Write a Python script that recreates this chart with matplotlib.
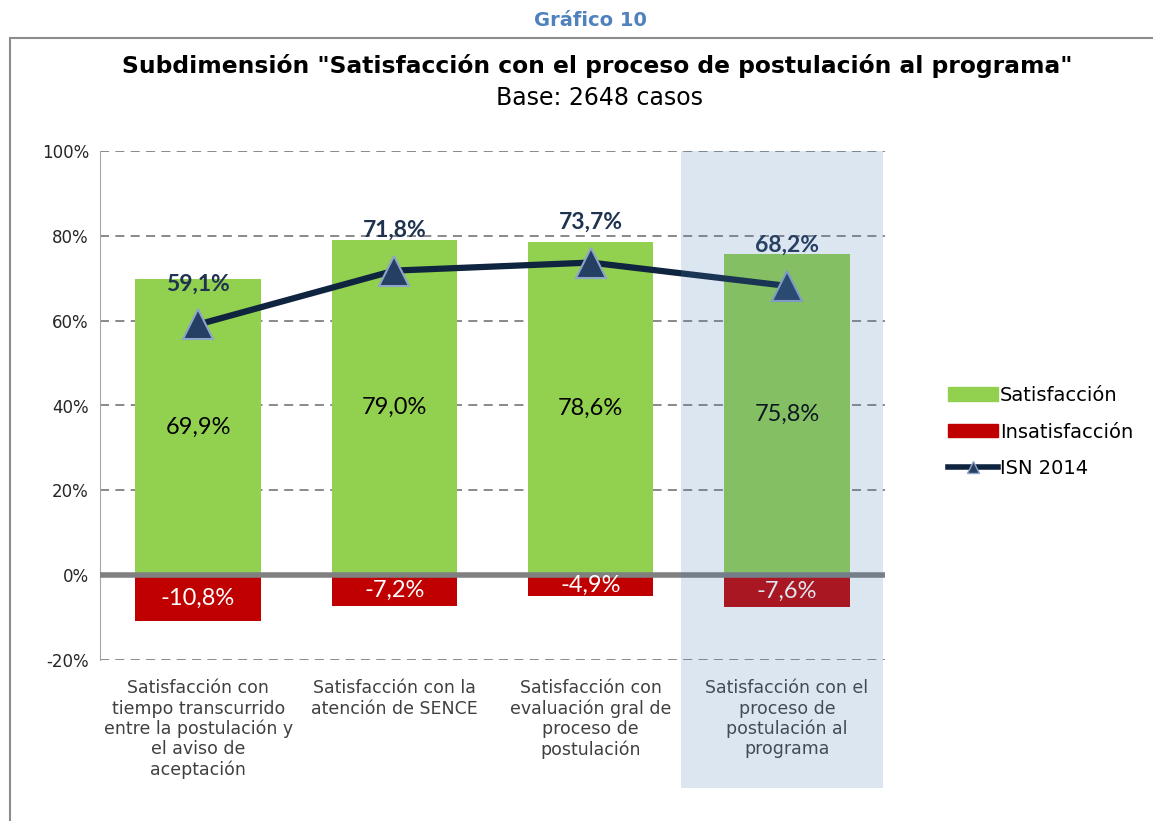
import matplotlib
matplotlib.use("Agg")
import matplotlib.pyplot as plt
from matplotlib.patches import Rectangle, Patch
from matplotlib.lines import Line2D
from matplotlib.transforms import blended_transform_factory

# datos del grafico
categorias = ["Satisfacción con\ntiempo transcurrido\nentre la postulación y\nel aviso de\naceptación",
              "Satisfacción con la\natención de SENCE",
              "Satisfacción con\nevaluación gral de\nproceso de\npostulación",
              "Satisfacción con el\nproceso de\npostulación al\nprograma"]
satisfaccion = [69.9, 79.0, 78.6, 75.8]
insatisfaccion = [-10.8, -7.2, -4.9, -7.6]
isn_2014 = [59.1, 71.8, 73.7, 68.2]
yticks = [-20, 0, 20, 40, 60, 80, 100]

verde = "#92D050"
rojo = "#C00000"
navy = "#0F243E"

def fmt(v):
    return ("%.1f%%" % v).replace(".", ",")

fig = plt.figure(figsize=(11.53, 8.21), dpi=100)
ax = fig.add_axes([100/1153, 1-660/821, 785/1153, 509/821])

x = list(range(len(categorias)))
ax.bar(x, satisfaccion, width=0.64, color=verde, zorder=2)
ax.bar(x, insatisfaccion, width=0.64, color=rojo, zorder=2)
ax.axhline(0, color="#808080", lw=4, zorder=3)
ax.plot(x, isn_2014, color=navy, lw=4.5, marker="^", markersize=21,
        markerfacecolor="#253F63", markeredgecolor="#8EA4C8", markeredgewidth=1.5, zorder=4)

for i in x:
    ax.text(i, satisfaccion[i] / 2, fmt(satisfaccion[i]), ha="center", va="center",
            fontsize=17, family="Lato", color="black", zorder=5)
    ax.text(i, insatisfaccion[i] / 2, fmt(insatisfaccion[i]), ha="center", va="center",
            fontsize=17, family="Lato", color="white", zorder=5)
    ax.annotate(fmt(isn_2014[i]), (i, isn_2014[i]), xytext=(0, 29), textcoords="offset points",
                ha="center", va="center", fontsize=16.5, family="Lato", fontweight="bold",
                color="#1F3350", zorder=5)

ax.set_xlim(-0.5, 3.5)
ax.set_ylim(-20, 100)
ax.set_yticks(yticks)
ax.set_yticklabels(["%d%%" % v for v in yticks], fontsize=12, color="#262626")
ax.set_xticks(x)
ax.set_xticklabels(categorias, fontsize=12.5, color="#404040", linespacing=1.15)
ax.tick_params(axis="both", length=0, pad=8)
ax.tick_params(axis="x", pad=14)
ax.yaxis.grid(True, color="#808080", lw=1.3, linestyle=(0, (5, 3.5)), zorder=0)
ax.set_axisbelow(True)
for s in ["top", "right", "bottom"]:
    ax.spines[s].set_visible(False)
ax.spines["left"].set_color("#a6a6a6")

# sombreado de la ultima categoria
trans = blended_transform_factory(ax.transData, ax.transAxes)
ax.add_patch(Rectangle((2.46, -0.252), 1.03, 1.252, transform=trans, facecolor="#4A7DB6",
                       alpha=0.19, edgecolor="none", clip_on=False, zorder=10))

# leyenda
handles = [Patch(color=verde), Patch(color=rojo),
           Line2D([], [], color=navy, lw=4, marker="^", markersize=9,
                  markerfacecolor="#253F63", markeredgecolor="#8EA4C8")]
fig.legend(handles, ["Satisfacción", "Insatisfacción", "ISN 2014"], loc="center left",
           bbox_to_anchor=(930/1153, 1-432/821), frameon=False, fontsize=14,
           handlelength=2.6, handletextpad=0.1, labelspacing=0.9)

# titulos y marco
fig.text(590/1153, 1-20/821, "Gráfico 10", ha="center", va="center", fontsize=14,
         fontweight="bold", color="#4F81BD")
fig.add_artist(Rectangle((10/1153, -0.01), 1.0, 1-38/821 + 0.01, transform=fig.transFigure,
                         fill=False, edgecolor="#8c8c8c", lw=1.5))
fig.text(597/1153, 1-66/821, "Subdimensión \"Satisfacción con el proceso de postulación al programa\"",
         ha="center", va="center", fontsize=16.8, fontweight="bold", color="black")
fig.text(600/1153, 1-98/821, "Base: 2648 casos", ha="center", va="center", fontsize=17,
         color="black")

fig.savefig("out.png", dpi=100)
